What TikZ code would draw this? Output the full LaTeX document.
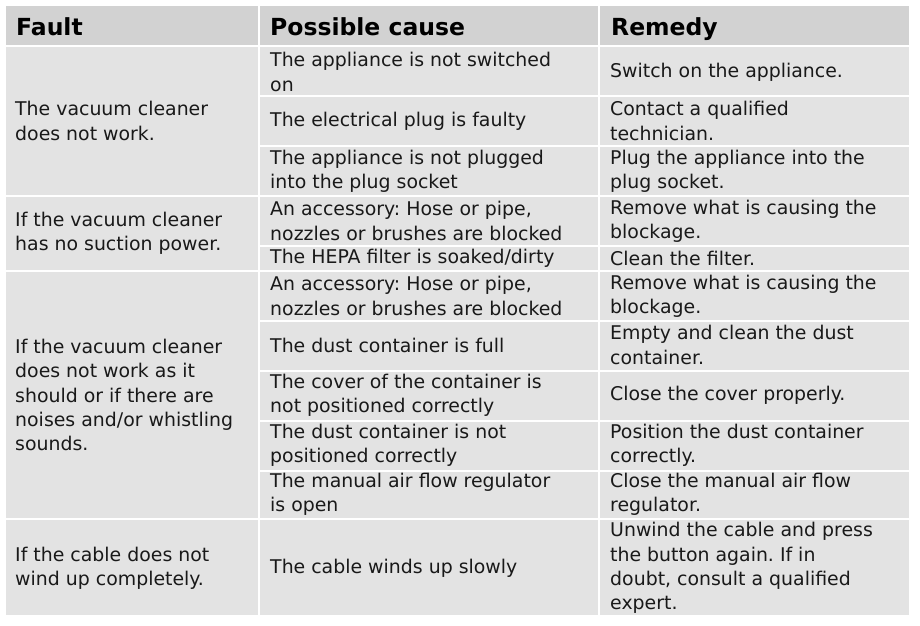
\documentclass[tikz,border=0pt]{standalone}
\usepackage{fontspec}
\setmainfont{DejaVu Sans}
\frenchspacing
\begin{document}
\begin{tikzpicture}[x=1pt,y=-1pt,
  body/.style={fill=bodygray},
  head/.style={fill=headgray},
  txt/.style={anchor=west,align=left,inner sep=0pt,font=\fontsize{18.9}{24.3}\selectfont,text=black!90},
  htxt/.style={anchor=base west,inner sep=0pt,font=\fontsize{23.5}{26}\selectfont\bfseries}]
\definecolor{bodygray}{HTML}{E3E3E3}
\definecolor{headgray}{HTML}{D2D2D2}
\useasboundingbox (0,0) rectangle (920,625);
\def\xa{5}\def\xb{259}\def\xc{599}\def\xd{910}
% header
\foreach \l/\r in {\xa/\xb,\xb/\xc,\xc/\xd}{\fill[head] (\l+1,6) rectangle (\r-1,45);}
\node[htxt] (h1) at (16,35) {Fault};
\node[htxt] (h2) at (270,35) {Possible cause};
\node[htxt] (h3) at (611,35) {Remedy};
% fault cells
\foreach \t/\b in {46/196,196/271,271/519,519/616}{\fill[body] (\xa+1,\t+1) rectangle (\xb-1,\b-1);}
% cause/remedy cells
\foreach \t/\b in {46/96,96/146,146/196,196/246,246/271,271/321,321/371,371/421,421/471,471/519,519/616}{
  \fill[body] (\xb+1,\t+1) rectangle (\xc-1,\b-1);
  \fill[body] (\xc+1,\t+1) rectangle (\xd-1,\b-1);}
% fault texts
\node[txt] (f1) at (15,121) {The vacuum cleaner\\does not work.};
\node[txt] (f2) at (15,233) {If the vacuum cleaner\\has no suction power.};
\node[txt] (f3) at (15,395) {If the vacuum cleaner\\does not work as it\\should or if there are\\noises and/or whistling\\sounds.};
\node[txt] (f4) at (15,568) {If the cable does not\\wind up completely.};
% causes
\node[txt] (c1) at (270,72) {The appliance is not switched\\on};
\node[txt] (c2) at (270,121) {The electrical plug is faulty};
\node[txt] (c3) at (270,171) {The appliance is not plugged\\into the plug socket};
\node[txt] (c4) at (270,221) {An accessory: Hose or pipe,\\nozzles or brushes are blocked};
\node[txt] (c5) at (270,258) {The HEPA filter is soaked/dirty};
\node[txt] (c6) at (270,296) {An accessory: Hose or pipe,\\nozzles or brushes are blocked};
\node[txt] (c7) at (270,345) {The dust container is full};
\node[txt] (c8) at (270,395) {The cover of the container is\\not positioned correctly};
\node[txt] (c9) at (270,445) {The dust container is not\\positioned correctly};
\node[txt] (c10) at (270,494) {The manual air flow regulator\\is open};
\node[txt] (c11) at (270,568) {The cable winds up slowly};
% remedies
\node[txt] (r1) at (610,72) {Switch on the appliance.};
\node[txt] (r2) at (610,121) {Contact a qualified\\technician.};
\node[txt] (r3) at (610,171) {Plug the appliance into the\\plug socket.};
\node[txt] (r4) at (610,221) {Remove what is causing the\\blockage.};
\node[txt] (r5) at (610,258) {Clean the filter.};
\node[txt] (r6) at (610,296) {Remove what is causing the\\blockage.};
\node[txt] (r7) at (610,345) {Empty and clean the dust\\container.};
\node[txt] (r8) at (610,395) {Close the cover properly.};
\node[txt] (r9) at (610,445) {Position the dust container\\correctly.};
\node[txt] (r10) at (610,494) {Close the manual air flow\\regulator.};
\node[txt] (r11) at (610,568) {Unwind the cable and press\\the button again. If in\\doubt, consult a qualified\\expert.};
\end{tikzpicture}
\end{document}
